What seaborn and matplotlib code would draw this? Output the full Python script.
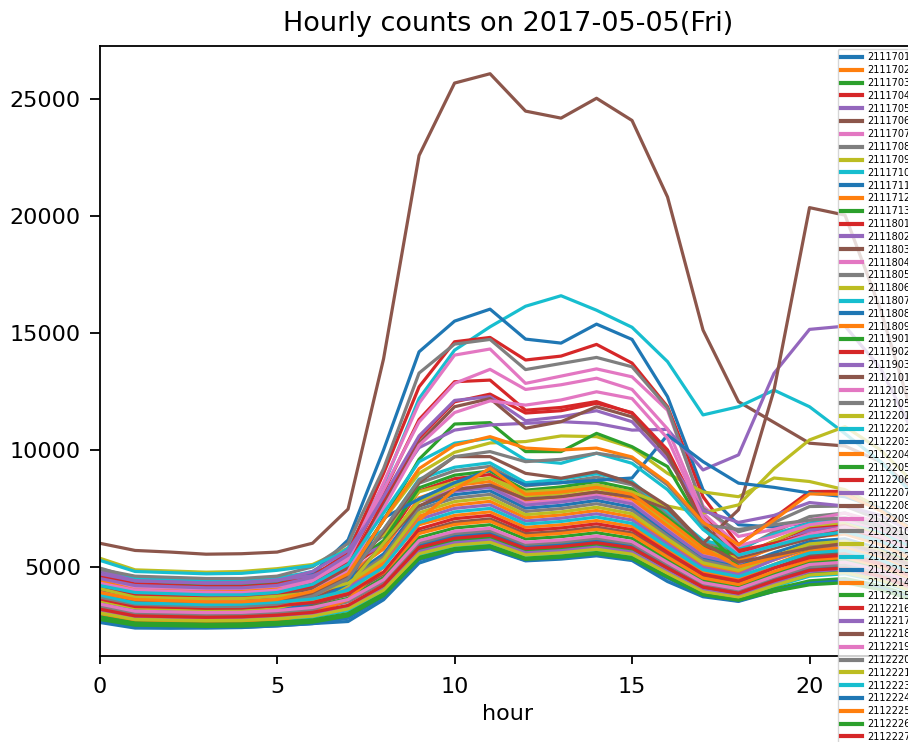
import matplotlib
matplotlib.use("Agg")
import matplotlib.pyplot as plt
import seaborn as sns
import pandas as pd

hours = list(range(24))

s2111701 = [4290, 3900, 3860, 3820, 3840, 3940, 4100, 4500, 5550, 7600, 8090, 8250, 7510, 7630, 7840, 7550, 6440, 5360, 5030, 5600, 6080, 6200, 5770, 5080]
s2111702 = [3960, 3600, 3560, 3530, 3550, 3640, 3780, 4200, 5200, 7170, 7640, 7800, 7100, 7220, 7410, 7140, 6080, 5070, 4760, 5300, 5780, 5900, 5490, 4840]
s2111703 = [3470, 3150, 3120, 3090, 3100, 3180, 3310, 3650, 4540, 6250, 6660, 6800, 6190, 6290, 6460, 6220, 5300, 4420, 4150, 4700, 5190, 5300, 4930, 4350]
s2111704 = [4620, 4200, 4160, 4120, 4140, 4240, 4410, 4900, 6000, 8240, 8770, 8950, 8140, 8280, 8500, 8190, 6980, 5820, 5460, 6100, 6660, 6800, 6320, 5580]
s2111705 = [3850, 3500, 3470, 3430, 3450, 3540, 3680, 4100, 5080, 7030, 7500, 7650, 6960, 7080, 7270, 7000, 5970, 4970, 4670, 5300, 5830, 5950, 5530, 4880]
s2111706 = [6010, 5700, 5630, 5540, 5560, 5630, 6010, 7470, 13900, 22600, 25700, 26100, 24500, 24200, 25050, 24100, 20825, 15130, 12065, 11180, 10290, 10170, 9500, 8200]
s2111707 = [4510, 4100, 4060, 4020, 4040, 4140, 4300, 4750, 5770, 7840, 8330, 8500, 7740, 7860, 8080, 7780, 6630, 5530, 5190, 5900, 6470, 6600, 6140, 5410]
s2111708 = [4950, 4500, 4460, 4410, 4430, 4550, 4730, 5300, 6320, 8580, 9110, 9300, 8460, 8600, 8840, 8510, 7250, 6050, 5670, 6500, 7150, 7300, 6790, 5990]
s2111709 = [5370, 4870, 4820, 4770, 4800, 4920, 5100, 5800, 6360, 8210, 8620, 8800, 8010, 8140, 8360, 8050, 6860, 5720, 5370, 6100, 6760, 6900, 6420, 5660]
s2111710 = [4800, 4500, 4450, 4400, 4400, 4500, 4800, 5800, 8500, 12200, 14270, 15270, 16150, 16600, 15980, 15250, 13780, 11500, 11850, 12560, 11850, 10700, 9500, 8000]
s2111711 = [4700, 4300, 4250, 4200, 4200, 4300, 4700, 6150, 10000, 14200, 15513, 16026, 14744, 14573, 15385, 14730, 12280, 8300, 6800, 6700, 6900, 7000, 6600, 5800]
s2111712 = [4070, 3700, 3660, 3630, 3640, 3740, 3890, 4300, 5090, 6800, 7200, 7350, 6690, 6800, 6980, 6730, 5730, 4780, 4480, 5100, 5680, 5800, 5390, 4760]
s2111713 = [4730, 4300, 4260, 4210, 4240, 4340, 4520, 5000, 6120, 8380, 8920, 9100, 8280, 8420, 8650, 8330, 7100, 5920, 5550, 6000, 6370, 6500, 6050, 5330]
s2111801 = [4600, 4300, 4200, 4150, 4150, 4250, 4600, 5600, 9000, 12700, 14630, 14815, 13850, 14017, 14517, 13718, 11850, 8000, 5940, 7100, 8220, 8230, 7500, 6500]
s2111802 = [4840, 4400, 4360, 4310, 4330, 4440, 4620, 5200, 5920, 7800, 8230, 8400, 7640, 7770, 7980, 7690, 6550, 5460, 5120, 5900, 6570, 6700, 6230, 5490]
s2111803 = [3580, 3250, 3220, 3190, 3200, 3280, 3410, 3800, 4690, 6480, 6910, 7050, 6420, 6520, 6700, 6450, 5500, 4580, 4300, 4950, 5490, 5600, 5210, 4590]
s2111804 = [4400, 4100, 4050, 4000, 4000, 4100, 4500, 5400, 8600, 12000, 14060, 14320, 12850, 13160, 13470, 13130, 11700, 7600, 6300, 6600, 7000, 7300, 6900, 6100]
s2111805 = [4900, 4600, 4550, 4500, 4500, 4600, 5000, 6000, 9200, 13290, 14530, 14730, 13440, 13700, 13960, 13560, 11800, 7500, 6500, 6900, 7580, 7600, 7000, 6100]
s2111806 = [4000, 3700, 3650, 3600, 3600, 3700, 4000, 4800, 7000, 9000, 9900, 10300, 10360, 10600, 10570, 10100, 9000, 8200, 8000, 8800, 8650, 8300, 7500, 6500]
s2111807 = [5280, 4800, 4750, 4700, 4720, 4850, 5050, 5700, 6570, 8750, 9260, 9450, 8600, 8740, 8980, 8650, 7370, 6140, 5760, 6400, 6860, 7000, 6510, 5740]
s2111808 = [3360, 3050, 3020, 2990, 3000, 3080, 3200, 3550, 4340, 5940, 6320, 6450, 5870, 5970, 6130, 5900, 5030, 4190, 3930, 4450, 4900, 5000, 4650, 4100]
s2111809 = [4400, 4000, 3960, 3920, 3940, 4040, 4200, 4650, 5770, 7950, 8480, 8650, 7870, 8000, 8220, 7910, 6750, 5620, 5280, 5800, 6270, 6400, 5950, 5250]
s2111901 = [3800, 3500, 3450, 3400, 3400, 3500, 3850, 4700, 7000, 9600, 11110, 11170, 9930, 9930, 10710, 10140, 9290, 6700, 5000, 5400, 5800, 6100, 5700, 5100]
s2111902 = [4200, 3900, 3850, 3800, 3800, 3900, 4250, 5200, 8200, 11300, 12920, 12990, 11700, 11820, 12070, 11570, 9800, 7200, 5700, 6000, 6400, 6700, 6300, 5600]
s2111903 = [4700, 4400, 4350, 4300, 4300, 4400, 4800, 5700, 7900, 10100, 10850, 11070, 11140, 11210, 11140, 10850, 10880, 9145, 9790, 13280, 15160, 15300, 13500, 10500]
s2112101 = [3600, 3300, 3250, 3200, 3200, 3300, 3600, 4300, 6000, 7600, 8300, 8500, 7900, 8000, 8200, 8000, 7500, 6000, 7440, 12560, 20370, 20050, 16000, 11000]
s2112103 = [4300, 4000, 3950, 3900, 3900, 4000, 4400, 5300, 8300, 11200, 12850, 13450, 12590, 12790, 13070, 12590, 10900, 7300, 5900, 6300, 6800, 7000, 6600, 5900]
s2112105 = [4180, 3800, 3760, 3720, 3740, 3840, 3990, 4400, 5430, 7460, 7940, 8100, 7370, 7490, 7700, 7410, 6320, 5270, 4940, 5450, 5880, 6000, 5580, 4920]
s2112201 = [3500, 3200, 3150, 3100, 3100, 3200, 3500, 4200, 6000, 7800, 8500, 8800, 8200, 8300, 8500, 8200, 7600, 7300, 7650, 9200, 10430, 11000, 10000, 8500]
s2112202 = [2970, 2700, 2670, 2650, 2660, 2730, 2840, 3130, 3950, 5490, 5860, 5980, 5440, 5530, 5680, 5470, 4660, 3890, 3650, 4150, 4600, 4700, 4370, 3850]
s2112203 = [3400, 3100, 3050, 3000, 3000, 3100, 3450, 4300, 7090, 7900, 8600, 9150, 8500, 8600, 8700, 8800, 10640, 9500, 8580, 8400, 8160, 8000, 7500, 6500]
s2112204 = [3740, 3400, 3370, 3330, 3350, 3430, 3570, 3950, 4750, 6420, 6810, 6950, 6320, 6430, 6600, 6360, 5420, 4520, 4240, 4800, 5290, 5400, 5020, 4430]
s2112205 = [3140, 2850, 2820, 2790, 2810, 2880, 3000, 3300, 4140, 5740, 6130, 6250, 5690, 5780, 5940, 5720, 4880, 4060, 3810, 4300, 4700, 4800, 4460, 3940]
s2112206 = [4100, 3800, 3750, 3700, 3700, 3800, 4150, 5000, 7800, 10500, 12060, 12390, 11580, 11680, 12000, 11600, 10000, 7000, 5600, 5900, 6300, 6600, 6200, 5500]
s2112207 = [4500, 4200, 4150, 4100, 4100, 4200, 4550, 5500, 8000, 10600, 12120, 12280, 11250, 11420, 11680, 11210, 9600, 7400, 6900, 7200, 7750, 7600, 7200, 6400]
s2112208 = [4000, 3700, 3650, 3600, 3600, 3700, 4050, 4900, 7600, 10300, 11850, 12200, 10930, 11210, 11850, 11420, 9800, 6800, 5400, 5800, 6200, 6500, 6100, 5400]
s2112209 = [3900, 3600, 3550, 3500, 3500, 3600, 3950, 4800, 7500, 10200, 11600, 12100, 11920, 12140, 12490, 12200, 10500, 7100, 5500, 5900, 6400, 6700, 6300, 5600]
s2112210 = [3300, 3000, 2970, 2940, 2950, 3030, 3150, 3500, 4350, 6020, 6420, 6550, 5960, 6060, 6220, 5990, 5110, 4260, 4000, 4550, 5000, 5100, 4740, 4180]
s2112211 = [4070, 3700, 3660, 3630, 3640, 3740, 3890, 4300, 5320, 7310, 7790, 7950, 7230, 7350, 7550, 7270, 6200, 5170, 4850, 5450, 5980, 6100, 5670, 5000]
s2112212 = [4200, 3900, 3850, 3800, 3800, 3900, 4250, 5100, 7300, 9500, 10290, 10500, 9570, 9430, 9860, 9430, 8300, 6600, 5500, 5900, 6300, 6500, 6100, 5500]
s2112213 = [2700, 2450, 2430, 2400, 2410, 2470, 2570, 2800, 3720, 5300, 5680, 5800, 5280, 5370, 5510, 5310, 4520, 3770, 3540, 4000, 4360, 4450, 4140, 3650]
s2112214 = [3000, 2700, 2650, 2600, 2600, 2700, 3000, 3600, 5000, 7000, 8300, 9220, 8100, 8200, 8400, 8100, 7000, 5800, 5000, 5400, 5800, 6000, 5600, 5000]
s2112215 = [2860, 2600, 2570, 2550, 2560, 2630, 2730, 3000, 3850, 5400, 5780, 5900, 5370, 5460, 5610, 5400, 4600, 3840, 3600, 4050, 4400, 4500, 4190, 3690]
s2112216 = [3630, 3300, 3270, 3230, 3250, 3330, 3470, 3850, 4780, 6620, 7060, 7200, 6550, 6660, 6840, 6590, 5620, 4680, 4390, 4950, 5390, 5500, 5120, 4510]
s2112217 = [3080, 2800, 2770, 2740, 2760, 2830, 2940, 3250, 4070, 5650, 6030, 6150, 5600, 5690, 5840, 5630, 4800, 4000, 3750, 4300, 4800, 4900, 4560, 4020]
s2112218 = [3800, 3500, 3450, 3400, 3400, 3500, 3850, 4600, 6500, 8600, 9715, 9715, 9000, 8790, 9070, 8580, 7600, 6000, 5200, 5500, 5800, 6000, 5600, 5000]
s2112219 = [3410, 3100, 3070, 3040, 3050, 3130, 3260, 3600, 4450, 6120, 6520, 6650, 6050, 6150, 6320, 6080, 5190, 4320, 4060, 4600, 5100, 5200, 4840, 4260]
s2112220 = [3700, 3400, 3350, 3300, 3300, 3400, 3750, 4500, 6600, 8700, 9715, 9930, 9500, 9600, 9860, 9640, 8500, 6800, 6600, 6800, 7000, 7100, 6700, 6000]
s2112221 = [3030, 2750, 2720, 2700, 2710, 2780, 2890, 3200, 4000, 5560, 5930, 6050, 5510, 5600, 5750, 5540, 4720, 3930, 3690, 4200, 4650, 4750, 4420, 3900]
s2112223 = [3800, 3450, 3420, 3380, 3400, 3490, 3620, 4000, 4990, 6890, 7350, 7500, 6830, 6940, 7130, 6860, 5850, 4880, 4580, 5100, 5590, 5700, 5300, 4670]
s2112224 = [2620, 2380, 2370, 2380, 2400, 2480, 2570, 2660, 3590, 5160, 5650, 5770, 5255, 5330, 5470, 5270, 4370, 3720, 3520, 3950, 4300, 4400, 4100, 3600]
s2112225 = [3900, 3600, 3550, 3500, 3500, 3600, 3950, 4700, 7000, 9200, 10200, 10570, 10080, 10000, 10080, 9700, 8600, 6900, 5940, 7000, 8120, 8100, 7400, 6500]
s2112226 = [2750, 2500, 2480, 2450, 2460, 2530, 2630, 2900, 3770, 5350, 5730, 5850, 5320, 5410, 5560, 5350, 4560, 3800, 3570, 3950, 4230, 4320, 4020, 3540]
s2112227 = [3190, 2900, 2870, 2840, 2860, 2930, 3050, 3350, 4210, 5830, 6220, 6350, 5780, 5870, 6030, 5810, 4950, 4130, 3870, 4400, 4850, 4950, 4600, 4060]

stations = ["2111701", "2111702", "2111703", "2111704", "2111705", "2111706", "2111707",
            "2111708", "2111709", "2111710", "2111711", "2111712", "2111713",
            "2111801", "2111802", "2111803", "2111804", "2111805", "2111806", "2111807",
            "2111808", "2111809", "2111901", "2111902", "2111903",
            "2112101", "2112103", "2112105",
            "2112201", "2112202", "2112203", "2112204", "2112205", "2112206", "2112207",
            "2112208", "2112209", "2112210", "2112211", "2112212", "2112213", "2112214",
            "2112215", "2112216", "2112217", "2112218", "2112219", "2112220", "2112221",
            "2112223", "2112224", "2112225", "2112226", "2112227"]

series = [s2111701, s2111702, s2111703, s2111704, s2111705, s2111706, s2111707,
          s2111708, s2111709, s2111710, s2111711, s2111712, s2111713,
          s2111801, s2111802, s2111803, s2111804, s2111805, s2111806, s2111807,
          s2111808, s2111809, s2111901, s2111902, s2111903,
          s2112101, s2112103, s2112105,
          s2112201, s2112202, s2112203, s2112204, s2112205, s2112206, s2112207,
          s2112208, s2112209, s2112210, s2112211, s2112212, s2112213, s2112214,
          s2112215, s2112216, s2112217, s2112218, s2112219, s2112220, s2112221,
          s2112223, s2112224, s2112225, s2112226, s2112227]

rows = []
for st, vals in zip(stations, series):
    for h, v in zip(hours, vals):
        rows.append({"hour": h, "station": st, "count": v})
df = pd.DataFrame(rows)

tab10 = sns.color_palette("tab10")
palette = {st: tab10[i % 10] for i, st in enumerate(stations)}

plt.rcParams.update({
    "font.family": ["DejaVu Sans"],
    "axes.linewidth": 1.3,
    "xtick.major.size": 5.8,
    "ytick.major.size": 7.0,
    "xtick.major.width": 1.3,
    "ytick.major.width": 1.3,
    "xtick.major.pad": 9.5,
    "ytick.major.pad": 6.5,
    "xtick.labelsize": 16,
    "ytick.labelsize": 16,
})

fig = plt.figure(figsize=(9.08, 7.42), dpi=100)
ax = fig.add_axes([99.6 / 908, 1 - 656 / 742, (916 - 99.6) / 908, (656 - 46) / 742])

sns.lineplot(data=df, x="hour", y="count", hue="station", hue_order=stations,
             palette=palette, estimator=None, linewidth=2.3, ax=ax, legend=True)

ax.set_xlim(0, 23)
ax.set_xticks([0, 5, 10, 15, 20])
ax.set_yticks([5000, 10000, 15000, 20000, 25000])
ax.set_xlabel("hour", fontsize=16, labelpad=5)
ax.set_ylabel("")
ax.set_title("Hourly counts on 2017-05-05(Fri)", fontsize=19.5, pad=11)

handles, labels = ax.get_legend_handles_labels()
ax.get_legend().remove()
leg = ax.legend(handles, labels, loc="upper left",
                bbox_to_anchor=(837.5 / 908, 1 - 49 / 742),
                bbox_transform=fig.transFigure, borderaxespad=0,
                fontsize=7, labelspacing=0.29, handlelength=2.2,
                handletextpad=0.55, borderpad=0.35, frameon=True)
for h in leg.legend_handles:
    h.set_linewidth(3.0)

fig.savefig("out.png", dpi=100)
